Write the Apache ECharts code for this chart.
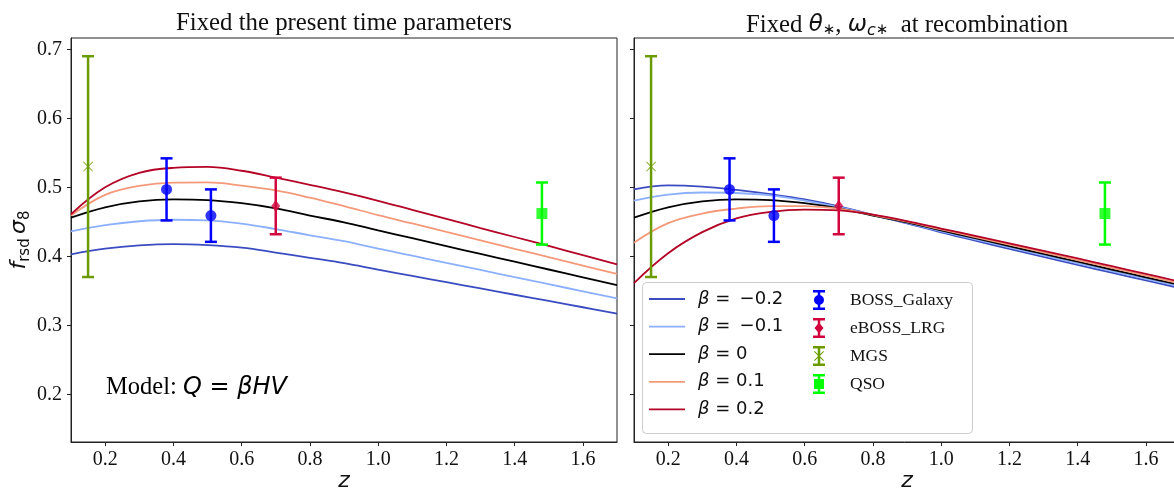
<!DOCTYPE html>
<html>
<head>
<meta charset="utf-8">
<script src="https://cdn.jsdelivr.net/npm/echarts@6/dist/echarts.min.js"></script>
<style>
  html, body { margin: 0; padding: 0; background: #fff; }
  #chart { width: 1174px; height: 490px; }
</style>
</head>
<body>
<div id="chart"></div>
<script>
// Redshift grid on which the model curves are tabulated
const zGrid = [0.1, 0.2, 0.3, 0.4, 0.5, 0.6, 0.7, 0.8, 0.9, 1.0, 1.1, 1.2, 1.3, 1.4, 1.5, 1.6, 1.7];

// Coupling strengths and their legend labels
const betaNames = ['β = \u2009−0.2', 'β = \u2009−0.1', 'β = 0', 'β = 0.1', 'β = 0.2'];
const betaColors = ['#3b4cc0', '#8db0fe', '#000000', '#f49a7b', '#b40426'];

// f_rsd σ8 with the present-time parameters held fixed
const presentBetaM02 = [0.4029, 0.4110, 0.4158, 0.4177, 0.4162, 0.4125, 0.4055, 0.3978, 0.3901, 0.3806, 0.3716, 0.3625, 0.3534, 0.3443, 0.3354, 0.3262, 0.3169];
const presentBetaM01 = [0.4362, 0.4452, 0.4508, 0.4530, 0.4522, 0.4475, 0.4395, 0.4305, 0.4219, 0.4110, 0.4009, 0.3905, 0.3802, 0.3698, 0.3596, 0.3493, 0.3391];
const presentBeta0   = [0.4560, 0.4710, 0.4795, 0.4825, 0.4815, 0.4770, 0.4695, 0.4590, 0.4493, 0.4375, 0.4262, 0.4148, 0.4035, 0.3922, 0.3809, 0.3696, 0.3584];
const presentBetaP01 = [0.4590, 0.4890, 0.5020, 0.5068, 0.5072, 0.5025, 0.4955, 0.4850, 0.4727, 0.4597, 0.4476, 0.4353, 0.4232, 0.4109, 0.3989, 0.3866, 0.3744];
const presentBetaP02 = [0.4610, 0.5000, 0.5210, 0.5282, 0.5295, 0.5240, 0.5140, 0.5035, 0.4925, 0.4805, 0.4674, 0.4542, 0.4410, 0.4280, 0.4150, 0.4016, 0.3884];

// f_rsd σ8 with θ* and ω_c* fixed at recombination
const recombBetaM02 = [0.4970, 0.5028, 0.5010, 0.4962, 0.4900, 0.4825, 0.4725, 0.4600, 0.4478, 0.4348, 0.4228, 0.4107, 0.3991, 0.3876, 0.3763, 0.3651, 0.3540];
const recombBetaM01 = [0.4806, 0.4895, 0.4925, 0.4918, 0.4884, 0.4808, 0.4712, 0.4597, 0.4485, 0.4362, 0.4245, 0.4128, 0.4013, 0.3899, 0.3786, 0.3674, 0.3562];
const recombBeta0   = [0.4560, 0.4710, 0.4795, 0.4825, 0.4815, 0.4770, 0.4695, 0.4590, 0.4493, 0.4375, 0.4262, 0.4148, 0.4035, 0.3922, 0.3809, 0.3696, 0.3584];
const recombBetaP01 = [0.4197, 0.4480, 0.4620, 0.4692, 0.4728, 0.4728, 0.4690, 0.4600, 0.4502, 0.4390, 0.4280, 0.4169, 0.4058, 0.3946, 0.3833, 0.3720, 0.3607];
const recombBetaP02 = [0.3612, 0.4045, 0.4350, 0.4550, 0.4645, 0.4678, 0.4665, 0.4605, 0.4510, 0.4403, 0.4297, 0.4189, 0.4080, 0.3969, 0.3857, 0.3745, 0.3632];

// Measurements: redshift, value, 1σ error
const bossZ = [0.38, 0.51];
const bossF = [0.497, 0.459];
const bossErr = [0.045, 0.038];
const lrgZ = [0.70];
const lrgF = [0.473];
const lrgErr = [0.041];
const mgsZ = [0.15];
const mgsF = [0.53];
const mgsErr = [0.16];
const qsoZ = [1.48];
const qsoF = [0.462];
const qsoErr = [0.045];

// Axis ticks
const xTicks = [0.2, 0.4, 0.6, 0.8, 1.0, 1.2, 1.4, 1.6];
const yTicks = [0.2, 0.3, 0.4, 0.5, 0.6, 0.7];

const serif = '"Liberation Serif", "Times New Roman", serif';
const sans = '"DejaVu Sans", sans-serif';
const frame = '#222';

const curvesByPanel = [
  [presentBetaM02, presentBetaM01, presentBeta0, presentBetaP01, presentBetaP02],
  [recombBetaM02, recombBetaM01, recombBeta0, recombBetaP01, recombBetaP02]
];

// Marker shapes (filled outlines)
const xMark = 'path://M0,0.7L0.7,0L5,4.3L9.3,0L10,0.7L5.7,5L10,9.3L9.3,10L5,5.7L0.7,10L0,9.3L4.3,5Z';
// Legend handles: a plain line, and an error bar with its marker (12 x 20 units)
const iconLine = 'path://M0,0H36V1.8H0Z';
const barPart = 'M0,0H12V2.5H0ZM0,17.5H12V20H0ZM4.75,2.5H7.25V17.5H4.75Z';
const iconBoss = 'path://' + barPart + 'M1,10A5,5 0 1,1 11,10A5,5 0 1,1 1,10Z';
const iconLrg = 'path://' + barPart + 'M6,4.5L10.5,10L6,15.5L1.5,10Z';
const iconMgs = 'path://' + barPart + 'M1,5.7L1.7,5L6,9.3L10.3,5L11,5.7L6.7,10L11,14.3L10.3,15L6,10.7L1.7,15L1,14.3L5.3,10Z';
const iconQso = 'path://' + barPart + 'M1,5H11V15H1Z';

const datasets = [
  { name: 'BOSS_Galaxy', z: bossZ, f: bossF, e: bossErr, color: '#0000ff', symbol: 'circle', size: 11, icon: iconBoss },
  { name: 'eBOSS_LRG', z: lrgZ, f: lrgF, e: lrgErr, color: '#d2063e', symbol: 'diamond', size: [9, 12], icon: iconLrg },
  { name: 'MGS', z: mgsZ, f: mgsF, e: mgsErr, color: '#6b9b00', symbol: xMark, size: 10, icon: iconMgs },
  { name: 'QSO', z: qsoZ, f: qsoF, e: qsoErr, color: '#00ff00', symbol: 'rect', size: 11, icon: iconQso }
];

function errorBarRenderer(color) {
  return function (params, api) {
    const x = api.value(0), y = api.value(1), e = api.value(2);
    const top = api.coord([x, y + e]);
    const bot = api.coord([x, y - e]);
    const hw = 6;
    const st = { stroke: color, lineWidth: 2.5 };
    return {
      type: 'group',
      children: [
        { type: 'line', shape: { x1: top[0], y1: top[1], x2: bot[0], y2: bot[1] }, style: st },
        { type: 'line', shape: { x1: top[0] - hw, y1: top[1], x2: top[0] + hw, y2: top[1] }, style: st },
        { type: 'line', shape: { x1: bot[0] - hw, y1: bot[1], x2: bot[0] + hw, y2: bot[1] }, style: st }
      ]
    };
  };
}

const series = [];
for (let p = 0; p < 2; p++) {
  curvesByPanel[p].forEach((vals, i) => {
    series.push({
      type: 'line', name: betaNames[i], xAxisIndex: p, yAxisIndex: p,
      data: zGrid.map((z, k) => [z, vals[k]]),
      showSymbol: false, symbol: 'none', smooth: 0.4, silent: true, z: 2,
      lineStyle: { color: betaColors[i], width: 1.8 },
      itemStyle: { color: betaColors[i] }
    });
  });
  datasets.forEach(d => {
    series.push({
      type: 'custom', name: d.name, xAxisIndex: p, yAxisIndex: p, z: 3, silent: true,
      itemStyle: { color: d.color },
      encode: { x: 0, y: 1 },
      data: d.z.map((z, k) => [z, d.f[k], d.e[k]]),
      renderItem: errorBarRenderer(d.color)
    });
    series.push({
      type: 'scatter', name: d.name, xAxisIndex: p, yAxisIndex: p, z: 4, silent: true,
      symbol: d.symbol, symbolSize: d.size,
      itemStyle: { color: d.color },
      data: d.z.map((z, k) => [z, d.f[k]])
    });
  });
}

const grids = [
  { left: 71, top: 38, width: 546, height: 404 },
  { left: 634, top: 38, width: 546, height: 404 }
].map(g => Object.assign(g, {
  show: true, borderColor: frame, borderWidth: 1, backgroundColor: 'transparent',
  containLabel: false, outerBoundsMode: 'none'
}));

const yRange = { min: 0.1309, max: 0.7164 };

const xAxes = [0, 1].map(p => ({
  type: 'value', gridIndex: p, min: 0.1, max: 1.7,
  axisLine: { show: true, lineStyle: { color: frame, width: 1 } },
  axisTick: { show: true, length: 4, customValues: xTicks, lineStyle: { color: frame, width: 1 } },
  axisLabel: { customValues: xTicks, formatter: v => v.toFixed(1), fontFamily: serif, fontSize: 20, color: '#111', margin: 8 },
  splitLine: { show: false },
  name: 'z', nameLocation: 'middle', nameGap: 28, nameMoveOverlap: false,
  nameTextStyle: { fontFamily: sans, fontStyle: 'italic', fontSize: 22, color: '#111', verticalAlign: 'top' }
}));

const yAxes = [0, 1].map(p => ({
  type: 'value', gridIndex: p, min: yRange.min, max: yRange.max,
  axisLine: { show: true, lineStyle: { color: frame, width: 1 } },
  axisTick: { show: true, length: 4, customValues: yTicks, lineStyle: { color: frame, width: 1 } },
  axisLabel: { show: p === 0, customValues: yTicks, formatter: v => v.toFixed(1), fontFamily: serif, fontSize: 20, color: '#111', margin: 9 },
  splitLine: { show: false },
  name: p === 0 ? '{it|f}{sub|rsd}{it|\u2009σ}{sub|8}' : '',
  nameLocation: 'middle', nameGap: 34, nameRotate: 90,
  nameTextStyle: {
    color: '#111',
    rich: {
      it: { fontFamily: sans, fontStyle: 'italic', fontSize: 22, color: '#111' },
      sub: { fontFamily: sans, fontSize: 15, color: '#111', padding: [12, 0, 0, 0] }
    }
  }
}));

const option = {
  animation: false,
  backgroundColor: '#ffffff',
  title: [
    {
      text: 'Fixed the present time parameters', left: 344, top: 11, textAlign: 'center', padding: 0,
      textStyle: { fontFamily: serif, fontSize: 24.8, fontWeight: 'normal', color: '#111' }
    },
    {
      text: '{s|Fixed }{m|θ}{sb|∗}{s|, }{m|ω}{sbi|c}{sb|∗}{s|  at recombination}', left: 907, top: 11, textAlign: 'center', padding: 0,
      textStyle: {
        fontFamily: serif, fontSize: 24.8, fontWeight: 'normal', color: '#111',
        rich: {
          s: { fontFamily: serif, fontSize: 24.8, color: '#111' },
          m: { fontFamily: sans, fontStyle: 'italic', fontSize: 23, color: '#111' },
          sb: { fontFamily: sans, fontSize: 15, color: '#111', padding: [10, 0, 0, 0] },
          sbi: { fontFamily: sans, fontStyle: 'italic', fontSize: 16, color: '#111', padding: [12, 0, 0, 0] }
        }
      }
    }
  ],
  grid: grids,
  xAxis: xAxes,
  yAxis: yAxes,
  legend: [
    {
      left: 649, top: 290, orient: 'vertical', padding: 0, itemGap: 9.6, z: 7,
      itemWidth: 36, itemHeight: 20, selectedMode: false,
      data: betaNames.map(n => ({ name: n, icon: iconLine })),
      formatter: n => '{g| }{b|β}{t|' + n.slice(1) + '}',
      textStyle: {
        rich: {
          g: { width: 8, fontSize: 18, lineHeight: 20 },
          b: { fontFamily: sans, fontStyle: 'italic', fontSize: 18, lineHeight: 20, color: '#111' },
          t: { fontFamily: sans, fontSize: 18, lineHeight: 20, color: '#111' }
        }
      }
    },
    {
      left: 813, top: 290, orient: 'vertical', padding: 0, itemGap: 8, z: 7,
      itemWidth: 36, itemHeight: 20, selectedMode: false,
      data: datasets.map(d => ({ name: d.name, icon: d.icon })),
      formatter: n => '{g| }{t|' + n + '}',
      textStyle: {
        rich: {
          g: { width: 8, fontSize: 18, lineHeight: 20 },
          t: { fontFamily: serif, fontSize: 17.5, lineHeight: 20, color: '#111' }
        }
      }
    }
  ],
  graphic: [
    {
      type: 'rect', z: 6, silent: true,
      shape: { x: 642.5, y: 282.5, width: 330, height: 151, r: 4 },
      style: { fill: 'rgba(255,255,255,0.8)', stroke: '#cccccc', lineWidth: 1 }
    },
    {
      type: 'text', z: 6, left: 106, top: 375, silent: true,
      style: {
        text: '{s|Model: }{m|Q = βHV}',
        rich: {
          s: { fontFamily: serif, fontSize: 24.5, color: '#111' },
          m: { fontFamily: sans, fontStyle: 'italic', fontSize: 24, color: '#111' }
        }
      }
    }
  ],
  series: series
};

const chart = echarts.init(document.getElementById('chart'), null, { renderer: 'canvas' });
chart.setOption(option);
</script>
</body>
</html>
